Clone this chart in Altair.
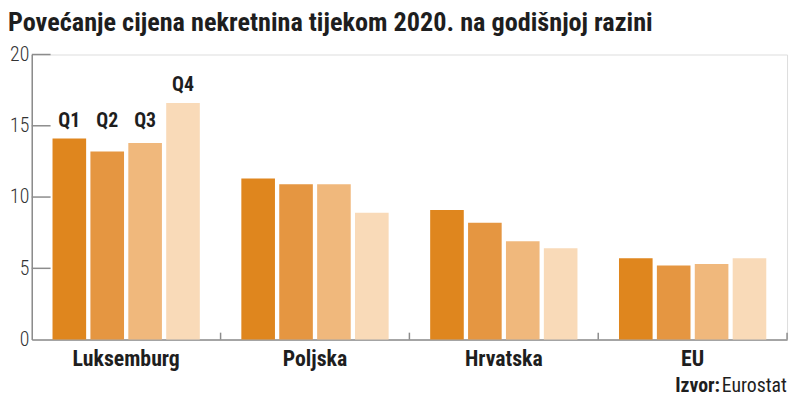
import altair as alt
import pandas as pd

countries = ["Luksemburg", "Poljska", "Hrvatska", "EU"]
quarters = ["Q1", "Q2", "Q3", "Q4"]
q1 = [14.1, 11.3, 9.1, 5.7]
q2 = [13.2, 10.9, 8.2, 5.2]
q3 = [13.8, 10.9, 6.9, 5.3]
q4 = [16.6, 8.9, 6.4, 5.7]
y_ticks = [0, 5, 10, 15, 20]
colors = ["#df861e", "#e59641", "#f0b87c", "#f9dab8"]

title_text = "Povećanje cijena nekretnina tijekom 2020. na godišnjoj razini"
source_bold = "Izvor:"
source_text = "Eurostat"

W, H = 763, 288
COND = "Roboto Condensed"
GREY = "#8c8c8c"
INK = "#1e1e1e"

rows = []
for q, vals in zip(quarters, [q1, q2, q3, q4]):
    for c, v in zip(countries, vals):
        rows.append({"country": c, "quarter": q, "value": v})
df = pd.DataFrame(rows)

# quarter labels above the first group: Q1-Q3 share one line, Q4 sits above its bar
first = {q: vals[0] for q, vals in zip(quarters, [q1, q2, q3, q4])}
top_three = max(first[q] for q in quarters[:3])
lab = pd.DataFrame({
    "country": [countries[0]] * 4,
    "quarter": quarters,
    "label_y": [top_three, top_three, top_three, first["Q4"]],
})

x_enc = alt.X(
    "country:N", sort=countries,
    scale=alt.Scale(paddingInner=0, paddingOuter=0),
    axis=alt.Axis(title=None, labelAngle=0, ticks=False, domain=True,
                  domainColor=GREY, domainWidth=1.5,
                  labelFont=COND, labelFontSize=22, labelFontWeight="bold",
                  labelColor=INK, labelPadding=9),
)
xoff = alt.XOffset("quarter:N", sort=quarters,
                   scale=alt.Scale(paddingInner=0.113, paddingOuter=0.548))
y_scale = alt.Scale(domain=[0, 20], nice=False)

bars = alt.Chart(df).mark_bar().encode(
    x=x_enc,
    xOffset=xoff,
    y=alt.Y("value:Q", scale=y_scale,
            axis=alt.Axis(values=y_ticks, title=None, grid=False, ticks=False,
                          domainColor=GREY, domainWidth=1.5,
                          labelFont=COND, labelFontSize=20,
                          labelFontWeight=300, labelColor="#333333",
                          labelPadding=3)),
    color=alt.Color("quarter:N", sort=quarters,
                    scale=alt.Scale(domain=quarters, range=colors), legend=None),
)

qlabels = alt.Chart(lab).mark_text(
    font=COND, fontSize=20, fontWeight="bold", color=INK,
    baseline="alphabetic", dy=-12,
).encode(
    x=alt.X("country:N", sort=countries),
    xOffset=alt.XOffset("quarter:N", sort=quarters),
    y=alt.Y("label_y:Q", scale=y_scale),
    text="quarter:N",
)

ytick_df = pd.DataFrame({"v": y_ticks[1:]})
yticks = alt.Chart(ytick_df).mark_rule(color=GREY, strokeWidth=1.5).encode(
    y=alt.Y("v:Q", scale=y_scale),
    x=alt.value(0), x2=alt.value(19),
)

xtick_df = pd.DataFrame({"country": countries})
xticks = alt.Chart(xtick_df).mark_rule(color=GREY, strokeWidth=1.5).encode(
    x=alt.X("country:N", sort=countries, bandPosition=1),
    y=alt.value(H - 7), y2=alt.value(H),
)

title = alt.Chart(pd.DataFrame({"t": [title_text]})).mark_text(
    font=COND, fontSize=26.5, fontWeight="bold", color=INK,
    align="left", baseline="alphabetic",
).encode(text="t:N", x=alt.value(-24), y=alt.value(-24))

src1 = alt.Chart(pd.DataFrame({"t": [source_bold]})).mark_text(
    font=COND, fontSize=20, fontWeight="bold", color=INK,
    align="left", baseline="alphabetic",
).encode(text="t:N", x=alt.value(650), y=alt.value(H + 53))

src2 = alt.Chart(pd.DataFrame({"t": [source_text]})).mark_text(
    font=COND, fontSize=20, color=INK,
    align="left", baseline="alphabetic",
).encode(text="t:N", x=alt.value(697), y=alt.value(H + 53))

chart = alt.layer(bars, qlabels, yticks, xticks, title, src1, src2).properties(
    width=W, height=H,
    autosize=alt.AutoSizeParams(type="none"),
    padding={"left": 24, "top": 45, "right": 5, "bottom": 56},
).configure_view(stroke=None).configure(background="white")

chart.save("out.html", embed_options={"renderer": "svg", "actions": False})
